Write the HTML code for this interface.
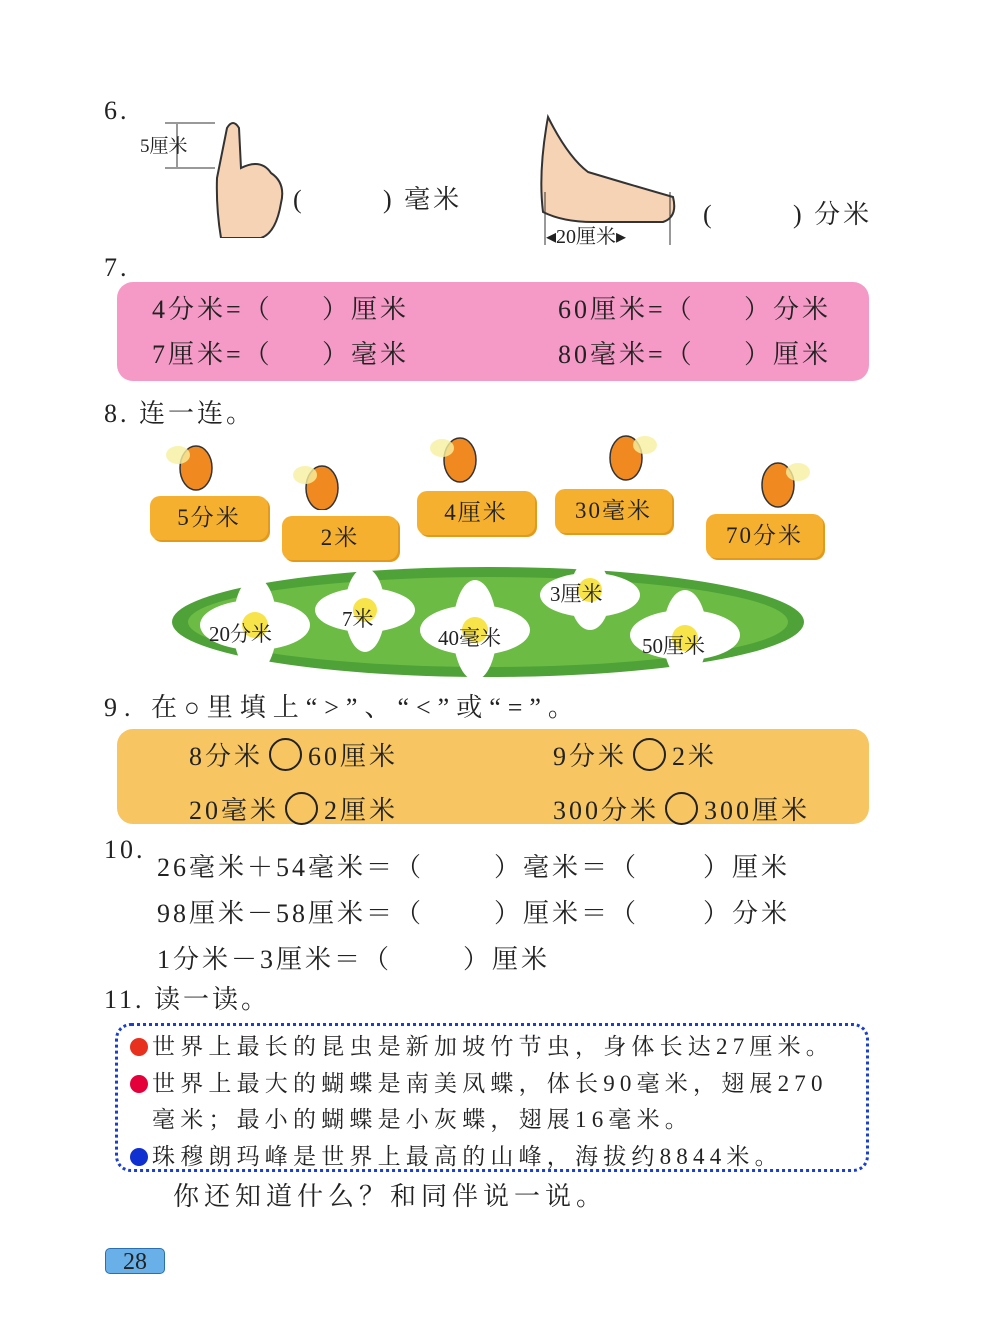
<!DOCTYPE html>
<html><head><meta charset="utf-8">
<style>
*{margin:0;padding:0;box-sizing:border-box}
body{width:1000px;height:1336px;background:#fff;position:relative;overflow:hidden;font-family:"Liberation Serif","Noto Serif CJK SC",serif;color:#222}
.t{position:absolute;white-space:nowrap;font-size:26px;line-height:1;letter-spacing:3px}
.box{position:absolute;border-radius:16px}
.sign{position:absolute;background:#f6b030;border-radius:10px;font-size:23px;text-align:center;line-height:44px;color:#222;box-shadow:2px 2px 0 #e39a1a;letter-spacing:2px}
.fl{position:absolute;font-size:21px}
.dot{display:inline-block;width:18px;height:18px;border-radius:50%;vertical-align:-2px;margin-right:4px}
.c{display:inline-block;width:33px;height:33px;border:2px solid #222;border-radius:50%;vertical-align:-6px;margin:0 6px}
.r{font-size:23px;letter-spacing:5.2px}
</style></head><body>

<div class="t" style="left:104px;top:98px">6.</div>
<div class="t" style="left:140px;top:137px;font-size:19px;letter-spacing:0">5厘米</div>
<svg style="position:absolute;left:165px;top:118px" width="125" height="120">
<line x1="0" y1="5" x2="50" y2="5" stroke="#333"/><line x1="0" y1="50" x2="50" y2="50" stroke="#333"/>
<line x1="12" y1="6" x2="12" y2="49" stroke="#333"/>
<path d="M62 10 q6-10 12 0 l2 40 q20-10 30 5 q15 10 10 30 q-5 30 -20 35 l-40 0 q-5-30 -4-60z" fill="#f6d3b4" stroke="#333" stroke-width="2"/>
</svg>
<div class="t" style="left:293px;top:187px">(</div>
<div class="t" style="left:383px;top:187px">) 毫米</div>
<svg style="position:absolute;left:528px;top:112px" width="150" height="135">
<path d="M20 5 q20 40 40 55 q50 15 85 25 q5 20-10 25 l-70 0 q-30 0-50-10 q-5-40 5-95z" fill="#f6d3b4" stroke="#333" stroke-width="2"/>
<line x1="17" y1="80" x2="17" y2="133" stroke="#333"/><line x1="142" y1="80" x2="142" y2="133" stroke="#333"/>
</svg>
<div class="t" style="left:546px;top:227px;font-size:20px;letter-spacing:0">◂20厘米▸</div>
<div class="t" style="left:703px;top:202px">(</div>
<div class="t" style="left:793px;top:202px">) 分米</div>

<div class="t" style="left:104px;top:255px">7.</div>
<div class="box" style="left:117px;top:282px;width:752px;height:99px;background:#f59ac6"></div>
<div class="t" style="left:152px;top:297px">4分米=（</div><div class="t" style="left:322px;top:297px">）厘米</div>
<div class="t" style="left:558px;top:297px">60厘米=（</div><div class="t" style="left:744px;top:297px">）分米</div>
<div class="t" style="left:152px;top:342px">7厘米=（</div><div class="t" style="left:322px;top:342px">）毫米</div>
<div class="t" style="left:558px;top:342px">80毫米=（</div><div class="t" style="left:744px;top:342px">）厘米</div>

<div class="t" style="left:104px;top:401px">8. 连一连。</div>
<svg style="position:absolute;left:170px;top:560px" width="640" height="125">
<ellipse cx="318" cy="62" rx="316" ry="55" fill="#4ea238"/>
<ellipse cx="318" cy="62" rx="300" ry="45" fill="#6cbb45"/>
<g fill="#fff"><ellipse cx="85" cy="65" rx="55" ry="25"/><ellipse cx="85" cy="65" rx="22" ry="48"/>
<ellipse cx="195" cy="50" rx="50" ry="22"/><ellipse cx="195" cy="50" rx="20" ry="42"/>
<ellipse cx="305" cy="70" rx="55" ry="25"/><ellipse cx="305" cy="70" rx="22" ry="50"/>
<ellipse cx="420" cy="35" rx="50" ry="22"/><ellipse cx="420" cy="35" rx="20" ry="35"/>
<ellipse cx="515" cy="75" rx="55" ry="25"/><ellipse cx="515" cy="75" rx="22" ry="45"/></g>
<g fill="#f7e34a"><circle cx="85" cy="65" r="13"/><circle cx="195" cy="50" r="12"/><circle cx="305" cy="70" r="13"/><circle cx="420" cy="30" r="12"/><circle cx="515" cy="78" r="13"/></g>
</svg>
<div class="fl" style="left:209px;top:618px">20分米</div>
<div class="fl" style="left:342px;top:603px">7米</div>
<div class="fl" style="left:438px;top:622px">40毫米</div>
<div class="fl" style="left:550px;top:578px">3厘米</div>
<div class="fl" style="left:642px;top:630px">50厘米</div>

<div class="sign" style="left:150px;top:496px;width:118px">5分米</div>
<div class="sign" style="left:282px;top:516px;width:116px">2米</div>
<div class="sign" style="left:417px;top:491px;width:118px">4厘米</div>
<div class="sign" style="left:555px;top:489px;width:117px">30毫米</div>
<div class="sign" style="left:706px;top:514px;width:117px">70分米</div>
<svg style="position:absolute;left:0;top:430px" width="1000" height="80">
<g fill="#f08a20" stroke="#333" stroke-width="1.5">
<ellipse cx="196" cy="38" rx="16" ry="22"/><ellipse cx="322" cy="58" rx="16" ry="22"/><ellipse cx="460" cy="30" rx="16" ry="22"/><ellipse cx="626" cy="28" rx="16" ry="22"/><ellipse cx="778" cy="55" rx="16" ry="22"/></g>
<g fill="#f8f0a0" opacity=".8"><ellipse cx="178" cy="25" rx="12" ry="9"/><ellipse cx="305" cy="45" rx="12" ry="9"/><ellipse cx="442" cy="18" rx="12" ry="9"/><ellipse cx="645" cy="15" rx="12" ry="9"/><ellipse cx="798" cy="42" rx="12" ry="9"/></g>
</svg>

<div class="t" style="left:104px;top:695px;letter-spacing:7px">9. 在○里填上“&gt;”、“&lt;”或“=”。</div>
<div class="box" style="left:117px;top:729px;width:752px;height:95px;background:#f7c561"></div>
<div class="t" style="left:189px;top:738px">8分米<span class="c"></span>60厘米</div>
<div class="t" style="left:553px;top:738px">9分米<span class="c"></span>2米</div>
<div class="t" style="left:189px;top:792px">20毫米<span class="c"></span>2厘米</div>
<div class="t" style="left:553px;top:792px">300分米<span class="c"></span>300厘米</div>

<div class="t" style="left:104px;top:837px">10.</div>
<div class="t" style="left:157px;top:855px">26毫米＋54毫米＝（</div><div class="t" style="left:494px;top:855px">）毫米＝（</div><div class="t" style="left:703px;top:855px">）厘米</div>
<div class="t" style="left:157px;top:901px">98厘米－58厘米＝（</div><div class="t" style="left:494px;top:901px">）厘米＝（</div><div class="t" style="left:703px;top:901px">）分米</div>
<div class="t" style="left:157px;top:947px">1分米－3厘米＝（</div><div class="t" style="left:463px;top:947px">）厘米</div>

<div class="t" style="left:104px;top:987px">11. 读一读。</div>
<div class="box" style="left:115px;top:1023px;width:754px;height:149px;border:3px dotted #1a3fd0"></div>
<div class="t r" style="left:130px;top:1035px"><span class="dot" style="background:#e8301e"></span>世界上最长的昆虫是新加坡竹节虫，身体长达27厘米。</div>
<div class="t r" style="left:130px;top:1072px"><span class="dot" style="background:#e4003a"></span>世界上最大的蝴蝶是南美凤蝶，体长90毫米，翅展270</div>
<div class="t r" style="left:152px;top:1108px">毫米；最小的蝴蝶是小灰蝶，翅展16毫米。</div>
<div class="t r" style="left:130px;top:1145px"><span class="dot" style="background:#1030d0"></span>珠穆朗玛峰是世界上最高的山峰，海拔约8844米。</div>
<div class="t" style="left:173px;top:1184px;letter-spacing:5px">你还知道什么？和同伴说一说。</div>

<div style="position:absolute;left:105px;top:1248px;width:60px;height:26px;background:#6ab0e8;border:1px solid #2a70b0;border-radius:5px;font-size:24px;line-height:26px;text-align:center">28</div>
</body></html>
